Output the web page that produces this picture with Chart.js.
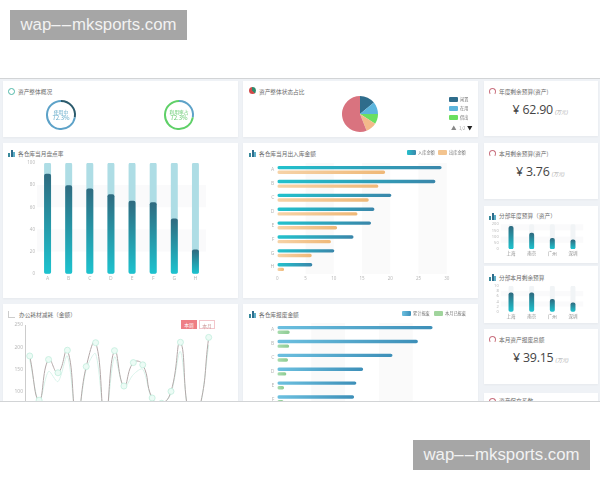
<!DOCTYPE html>
<html lang="zh">
<head>
<meta charset="utf-8">
<title>资产看板</title>
<script src="https://cdn.jsdelivr.net/npm/chart.js@4"></script>
<style>
html, body { margin: 0; padding: 0; background: #fff; width: 600px; height: 480px; overflow: hidden; }
body { font-family: "Noto Sans CJK SC", "Noto Sans", sans-serif; }
.mark { position: absolute; width: 177px; height: 30px; text-align: center; background: #a6a6a6; color: #f2f2f2; font: 16.8px/30px "Liberation Sans", sans-serif; }
.mark span { letter-spacing: 1.1px; }
#board { position: absolute; left: 0; top: 78px; width: 600px; height: 324px; background: #eff2f6; overflow: hidden; border-top: 1px solid #d2d4d6; border-bottom: 1px solid #d2d4d6; box-sizing: border-box; filter: blur(0.5px); }
.layer { position: absolute; left: 0; top: -78px; width: 600px; height: 558px; }
.card { position: absolute; background: #fff; box-shadow: 0 1px 2px rgba(0,0,0,0.04); }
.title { position: absolute; font-size: 5.7px; line-height: 8px; color: #6c6c6c; white-space: nowrap; }
.tiny { position: absolute; font-size: 4.2px; line-height: 7px; color: #777; white-space: nowrap; }
.swatch { position: absolute; height: 5px; border-radius: 1px; }
canvas { position: absolute; }
.ico { position: absolute; width: 7px; height: 7px; }
.bars { background:
  linear-gradient(#3a8a9c, #3a8a9c) 0 3px / 2px 4px no-repeat,
  linear-gradient(#2f6d8c, #2f6d8c) 2.5px 0 / 2px 7px no-repeat,
  linear-gradient(#5fb0c8, #5fb0c8) 5px 2px / 2px 5px no-repeat; }
.ring { border-radius: 50%; border: 1.3px solid #4fb8a8; box-sizing: border-box; }
.dot { border-radius: 50%; background: conic-gradient(#2f8a6c 0 40%, #d04a4a 40% 100%); }
.gauge { border-radius: 50%; border: 1px solid #c9717f; border-bottom-color: transparent; box-sizing: border-box; }
.line-ico { border-left: 1px solid #ccc; border-bottom: 1px solid #ccc; box-sizing: border-box; }
.money { position: absolute; white-space: nowrap; font-family: "Open Sans", sans-serif; color: #444; font-size: 12.4px; letter-spacing: -0.2px; line-height: 18px; }
.money em { font-size: 5.2px; color: #aaa; margin-left: 2px; letter-spacing: 0; }
.gauge-text { position: absolute; width: 30px; text-align: center; font-size: 4.8px; line-height: 6px; }
.gauge-text b { font-weight: normal; font-size: 6px; }
.btn { position: absolute; top: 319px; width: 16px; height: 9px; line-height: 9px; font-size: 4.8px; text-align: center; box-sizing: border-box; }
</style>
</head>
<body>
<div class="mark" style="left:10px;top:10px">wap<span>––</span>mksports.com</div>
<div class="mark" style="left:413px;top:440px">wap<span>––</span>mksports.com</div>

<div id="board"><div class="layer">
  <div class="card" style="left:3px;top:80px;width:235px;height:56px"></div>
  <div class="card" style="left:243px;top:80px;width:235px;height:56px"></div>
  <div class="card" style="left:3px;top:142px;width:235px;height:155px"></div>
  <div class="card" style="left:243px;top:142px;width:235px;height:155px"></div>
  <div class="card" style="left:3px;top:303px;width:235px;height:120px"></div>
  <div class="card" style="left:243px;top:303px;width:235px;height:120px"></div>
  <div class="card" style="left:484px;top:80px;width:114px;height:55px"></div>
  <div class="card" style="left:484px;top:142px;width:114px;height:56px"></div>
  <div class="card" style="left:484px;top:205px;width:114px;height:57px"></div>
  <div class="card" style="left:484px;top:265px;width:114px;height:57px"></div>
  <div class="card" style="left:484px;top:328px;width:114px;height:55px"></div>
  <div class="card" style="left:484px;top:392px;width:114px;height:40px"></div>

  <i class="ico ring" style="left:8px;top:87px"></i>
  <div class="title" style="left:18px;top:87px">资产整体概况</div>
  <i class="ico dot" style="left:249px;top:86px"></i>
  <div class="title" style="left:259px;top:87px">资产整体状态占比</div>
  <i class="ico bars" style="left:8px;top:149px"></i>
  <div class="title" style="left:18px;top:149px">各仓库当月盘点率</div>
  <i class="ico bars" style="left:249px;top:149px"></i>
  <div class="title" style="left:259px;top:149px">各仓库当月出入库金额</div>
  <i class="ico line-ico" style="left:8px;top:310px"></i>
  <div class="title" style="left:19px;top:310px">办公耗材减耗（金额）</div>
  <i class="ico bars" style="left:249px;top:310px"></i>
  <div class="title" style="left:259px;top:310px">各仓库报废金额</div>

  <i class="ico gauge" style="left:489px;top:87px"></i>
  <div class="title" style="left:499px;top:87px">年度剩余预算(资产)</div>
  <div class="money" style="left:512.5px;top:100px">¥ 62.90<em><i>(万元)</i></em></div>
  <i class="ico gauge" style="left:489px;top:149px"></i>
  <div class="title" style="left:499px;top:149px">本月剩余预算(资产)</div>
  <div class="money" style="left:516px;top:162px">¥ 3.76<em><i>(万元)</i></em></div>
  <i class="ico bars" style="left:489px;top:212px"></i>
  <div class="title" style="left:499px;top:211px">分部年度预算（资产）</div>
  <i class="ico bars" style="left:489px;top:273px"></i>
  <div class="title" style="left:499px;top:273px">分部本月剩余预算</div>
  <i class="ico gauge" style="left:489px;top:335px"></i>
  <div class="title" style="left:499px;top:335px">本月资产报废总额</div>
  <div class="money" style="left:513px;top:348px">¥ 39.15<em><i>(万元)</i></em></div>
  <i class="ico gauge" style="left:489px;top:397px"></i>
  <div class="title" style="left:499px;top:396px">资产保充系数</div>

  <canvas id="usedRing" width="36" height="36" style="left:43px;top:96px"></canvas>
  <div class="gauge-text" style="left:46px;top:108px;color:#5fa8c8">使用中<br><b>72.3%</b></div>
  <canvas id="rateRing" width="36" height="36" style="left:161px;top:96px"></canvas>
  <div class="gauge-text" style="left:164px;top:108px;color:#62c96c">利用率占<br><b>72.3%</b></div>

  <canvas id="statePie" width="44" height="44" style="left:338px;top:91px"></canvas>
  <div class="swatch" style="left:449px;top:96px;width:9px;background:#2f6d8c"></div>
  <div class="tiny" style="left:460px;top:95px">闲置</div>
  <div class="swatch" style="left:449px;top:105px;width:9px;background:#5cb5dd"></div>
  <div class="tiny" style="left:460px;top:104px">在用</div>
  <div class="swatch" style="left:449px;top:114px;width:9px;background:#6adf60"></div>
  <div class="tiny" style="left:460px;top:113px">借出</div>
  <div class="tiny" style="left:451px;top:124px;color:#888;font-size:5.5px">▲</div>
  <div class="tiny" style="left:459px;top:124px;color:#999">1/2</div>
  <div class="tiny" style="left:467px;top:124px;color:#222;font-size:5.5px">▼</div>

  <canvas id="stockChart" width="235" height="135" style="left:3px;top:155px"></canvas>

  <div class="swatch" style="left:407px;top:149px;width:9px;background:linear-gradient(90deg,#26c0cc,#3b87ab)"></div>
  <div class="tiny" style="left:418px;top:148px">入库金额</div>
  <div class="swatch" style="left:438px;top:149px;width:9px;background:#f3c48f"></div>
  <div class="tiny" style="left:449px;top:148px">出库金额</div>
  <canvas id="flowChart" width="235" height="135" style="left:243px;top:155px"></canvas>

  <div class="btn" style="left:181px;background:#ee7f85;color:#fff">本周</div>
  <div class="btn" style="left:199px;border:1px solid #f3c6cb;color:#c99">本月</div>
  <canvas id="suppliesChart" width="235" height="135" style="left:3px;top:315px"></canvas>

  <div class="swatch" style="left:402px;top:310px;width:9px;background:linear-gradient(90deg,#6cc0e0,#3d8fb8)"></div>
  <div class="tiny" style="left:413px;top:309px">累计报废</div>
  <div class="swatch" style="left:434px;top:310px;width:9px;background:#a0d49c"></div>
  <div class="tiny" style="left:445px;top:309px">本月已报废</div>
  <canvas id="scrapChart" width="235" height="135" style="left:243px;top:315px"></canvas>

  <canvas id="yearBudgetChart" width="114" height="44" style="left:484px;top:218px"></canvas>
  <canvas id="monthBudgetChart" width="114" height="42" style="left:484px;top:280px"></canvas>
</div></div>

<script>
// --- DATA ---
const warehouses = ['A', 'B', 'C', 'D', 'E', 'F', 'G', 'H'];
const stockRates = [90, 79.6, 76.6, 71.5, 65.5, 64.3, 49.5, 21.6];
const stockTrack = [100, 100, 100, 100, 100, 100, 100, 100];
const stockTicks = [0, 20, 40, 60, 80, 100];

const inboundAmounts = [29.1, 28, 20.2, 17.2, 16.6, 13.5, 10.1, 6.2];
const outboundAmounts = [19.1, 17.9, 16.2, 14.2, 10.6, 9.5, 6.1, 1.2];

const scrapTotals = [27.5, 24.9, 20.4, 15.2, 14, 13.6, 12, 10];
const scrapMonthly = [2.2, 2.1, 1.9, 1.6, 1.2, 1.1, 1, 0.8];

const periods = ['1', '2', '3', '4', '5', '6', '7', '8', '9', '10', '11', '12', '13', '14', '15', '16', '17', '18', '19', '20'];
const suppliesCost = [180, 80, 172, 142, 193, 40, 156, 210, 40, 192, 112, 165, 160, 85, 73, 100, 211, 40, 60, 222];
const suppliesCompare = [172, 76, 145, 122, 180, 32, 150, 185, 30, 178, 108, 138, 150, 80, 70, 95, 190, 30, 55, 205];

const branches = ['上海', '南京', '广州', '深圳'];
const yearBudget = [184, 128, 86, 74];
const yearBudgetTrack = [200, 200, 200, 200];
const monthBudget = [7.3, 7.3, 4.8, 3.5];
const monthBudgetTrack = [10, 10, 10, 10];

const usedShare = [27.7, 72.3];
const rateShare = [27.7, 72.3];
const stateShare = [14, 11, 9, 10, 56];
const stateLabels = ['闲置', '在用', '借出', '维修', '报废'];

// --- HELPERS ---
Chart.defaults.animation = false;
Chart.defaults.responsive = false;
Chart.defaults.font.family = '"Noto Sans", "Noto Sans CJK SC", sans-serif';
Chart.defaults.plugins.legend.display = false;
Chart.defaults.plugins.tooltip.enabled = false;

// alternating pale bands behind the marks, taken from the axis ticks
const bandPlugin = {
    id: 'bands',
    beforeDatasetsDraw(chart, args, opts) {
        if (!opts.axis) return;
        const scale = chart.scales[opts.axis];
        const area = chart.chartArea;
        const c = chart.ctx;
        c.save();
        c.fillStyle = opts.color || '#f8f8fa';
        scale.ticks.forEach((t, i) => {
            if (i % 2 === 0 || i + 1 >= scale.ticks.length) return;
            const a = scale.getPixelForTick(i);
            const b = scale.getPixelForTick(i + 1);
            if (opts.axis === 'y') c.fillRect(area.left, Math.min(a, b), area.width, Math.abs(b - a));
            else c.fillRect(Math.min(a, b), area.top, Math.abs(b - a), area.height);
        });
        c.restore();
    }
};
Chart.register(bandPlugin);

function barGradient(stops) {
    return (ctx) => {
        const chart = ctx.chart;
        if (!chart.chartArea) return stops[0];
        const horizontal = chart.options.indexAxis === 'y';
        const val = ctx.raw;
        const g = horizontal
            ? chart.ctx.createLinearGradient(chart.scales.x.getPixelForValue(0), 0, chart.scales.x.getPixelForValue(val), 0)
            : chart.ctx.createLinearGradient(0, chart.scales.y.getPixelForValue(val), 0, chart.scales.y.getPixelForValue(0));
        g.addColorStop(0, stops[0]);
        g.addColorStop(1, stops[1]);
        return g;
    };
}

const fitWidth = (w) => (s) => { s.width = w; };
const fitHeight = (h) => (s) => { s.height = h; };
const noGrid = { display: false, drawTicks: false };

function tickStyle(size, color) {
    return { color: color || '#b8b8b8', font: { size: size }, padding: 2, autoSkip: false, maxRotation: 0 };
}

function columnChart(id, labels, values, track, trackColor, cfg) {
    return new Chart(document.getElementById(id), {
        type: 'bar',
        data: {
            labels: labels,
            datasets: [
                { data: values, grouped: false, barThickness: cfg.bar, borderRadius: 2, borderSkipped: false,
                  backgroundColor: barGradient(['#2f6b80', '#1dc3cf']) },
                { data: track, grouped: false, barThickness: cfg.bar, borderRadius: 2, borderSkipped: false,
                  backgroundColor: trackColor }
            ]
        },
        options: {
            layout: { padding: { top: cfg.top, right: cfg.right } },
            plugins: { bands: { axis: 'y', color: '#fafafb' } },
            scales: {
                x: { grid: noGrid, border: { display: false }, ticks: tickStyle(cfg.labelFont, cfg.labelColor), afterFit: fitHeight(cfg.bottom) },
                y: { min: 0, max: cfg.max, grid: noGrid, border: { display: false },
                     ticks: { ...tickStyle(cfg.font), stepSize: cfg.step }, afterFit: fitWidth(cfg.left) }
            }
        }
    });
}

function rowChart(id, first, second, firstStops, secondStops, step, left) {
    return new Chart(document.getElementById(id), {
        type: 'bar',
        data: {
            labels: warehouses,
            datasets: [
                { data: first, backgroundColor: barGradient(firstStops), borderRadius: 2, borderSkipped: false, categoryPercentage: 0.676, barPercentage: 0.72 },
                { data: second, backgroundColor: barGradient(secondStops), borderRadius: 2, borderSkipped: false, categoryPercentage: 0.676, barPercentage: 0.72 }
            ]
        },
        options: {
            indexAxis: 'y',
            layout: { padding: { top: 7, right: 31.3 } },
            plugins: { bands: { axis: 'x', color: '#fafafa' } },
            scales: {
                x: { min: 0, max: 30, grid: noGrid, border: { display: false },
                     ticks: { ...tickStyle(4.5), stepSize: step }, afterFit: fitHeight(17) },
                y: { grid: noGrid, border: { display: false }, ticks: { ...tickStyle(5), padding: 3 }, afterFit: fitWidth(left) }
            }
        }
    });
}

function ringChart(id, share, colors) {
    return new Chart(document.getElementById(id), {
        type: 'doughnut',
        data: { labels: ['剩余', '占比'], datasets: [{ data: share, backgroundColor: colors, borderWidth: 0 }] },
        options: { radius: 15, cutout: '87%' }
    });
}

// --- CHARTS ---
ringChart('usedRing', usedShare, ['#2b5a6c', '#5da2c8']);
ringChart('rateRing', rateShare, ['#5da2c8', '#5fd068']);

new Chart(document.getElementById('statePie'), {
    type: 'pie',
    data: {
        labels: stateLabels,
        datasets: [{ data: stateShare, backgroundColor: ['#2f6d8c', '#5cb5dd', '#6adf60', '#f3b98a', '#d9737f'], borderWidth: 0 }]
    },
    options: { radius: 18 }
});

columnChart('stockChart', warehouses, stockRates, stockTrack, '#aedde5',
    { bar: 6.3, top: 7, right: 32, left: 34, bottom: 17.3, max: 100, step: stockTicks[1], font: 4.5, labelFont: 5 });

rowChart('flowChart', inboundAmounts, outboundAmounts, ['#22c2cd', '#3a86aa'], ['#f6d3a8', '#efb877'], 5, 34.3);
rowChart('scrapChart', scrapTotals, scrapMonthly, ['#6cc0e0', '#3d8fb8'], ['#a8dcae', '#8ecb92'], 6, 34.3);

new Chart(document.getElementById('suppliesChart'), {
    type: 'line',
    data: {
        labels: periods,
        datasets: [
            { data: suppliesCost, borderColor: '#b3a8a8', borderWidth: 1, tension: 0.5,
              pointRadius: 3, pointBackgroundColor: '#ecfbf5', pointBorderColor: '#c2eedd', pointBorderWidth: 0.8 },
            { data: suppliesCompare, borderColor: '#d8f3ea', borderWidth: 1, tension: 0.3, pointRadius: 0 }
        ]
    },
    options: {
        layout: { padding: { top: 9, right: 24.6 } },
        scales: {
            x: { offset: true, grid: noGrid, border: { color: '#ccc' }, ticks: { display: false }, afterFit: fitHeight(15.4) },
            y: { min: 0, max: 250, grid: noGrid, border: { color: '#ccc' },
                 ticks: { ...tickStyle(5), stepSize: 50 }, afterFit: fitWidth(22) }
        }
    }
});

columnChart('yearBudgetChart', branches, yearBudget, yearBudgetTrack, '#f1f4f6',
    { bar: 4.3, top: 5.3, right: 14.7, left: 16.7, bottom: 14, max: 200, step: 50, font: 4, labelFont: 4.5, labelColor: '#888' });
columnChart('monthBudgetChart', branches, monthBudget, monthBudgetTrack, '#f1f4f6',
    { bar: 4.3, top: 5, right: 14.7, left: 16.7, bottom: 11.3, max: 10, step: 2, font: 4, labelFont: 4.5, labelColor: '#888' });
</script>
</body>
</html>
